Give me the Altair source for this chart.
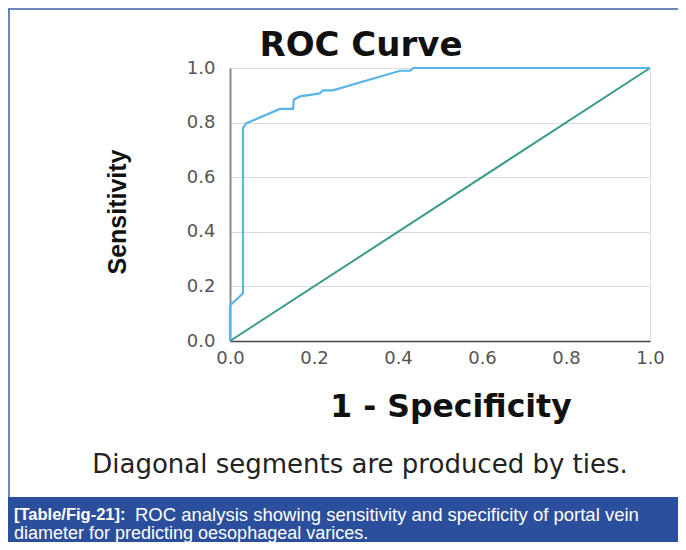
import altair as alt
import pandas as pd

# ROC curve points (1 - specificity, sensitivity)
fpr = [0.0, 0.0, 0.031, 0.031, 0.038, 0.119, 0.15, 0.152, 0.167, 0.214, 0.221, 0.245, 0.405, 0.429, 0.436, 1.0]
tpr = [0.0, 0.13, 0.175, 0.78, 0.797, 0.85, 0.85, 0.885, 0.896, 0.907, 0.918, 0.918, 0.99, 0.99, 1.0, 1.0]
diag_x = [0.0, 1.0]
diag_y = [0.0, 1.0]
tick_values = [0.0, 0.2, 0.4, 0.6, 0.8, 1.0]

title_text = "ROC Curve"
y_title = "Sensitivity"
x_title = "1 - Specificity"
note_text = "Diagonal segments are produced by ties."
caption_bold = "[Table/Fig-21]:"
caption_line1 = "ROC analysis showing sensitivity and specificity of portal vein"
caption_line2 = "diameter for predicting oesophageal varices."

roc = pd.DataFrame({"fpr": fpr, "tpr": tpr, "i": list(range(len(fpr)))})
diag = pd.DataFrame({"fpr": diag_x, "tpr": diag_y, "i": [0, 1]})
one = pd.DataFrame({"k": [0]})

xs = alt.Scale(domain=[0, 1], nice=False, zero=False)
ys = alt.Scale(domain=[0, 1], nice=False, zero=False)

x_axis = alt.Axis(values=tick_values, format=".1f", grid=False, ticks=False, labelFlush=False,
                  domainColor="#444444", domainWidth=1.5, labelPadding=8,
                  labelFont="DejaVu Sans", labelFontSize=18, labelColor="#555555", title=None)
y_axis = alt.Axis(values=tick_values, format=".1f", grid=True, gridColor="#dcdcdc", ticks=False,
                  labelFlush=False, domainColor="#8a8a8a", domainWidth=2, labelPadding=15,
                  labelFont="DejaVu Sans", labelFontSize=18, labelColor="#555555", title=None)

diag_line = alt.Chart(diag).mark_line(color="#3a9a8c", strokeWidth=2).encode(
    x=alt.X("fpr:Q", scale=xs, axis=x_axis),
    y=alt.Y("tpr:Q", scale=ys, axis=y_axis),
    order="i:Q",
)
roc_line = alt.Chart(roc).mark_line(color="#5ab4ea", strokeWidth=2.2).encode(
    x=alt.X("fpr:Q", scale=xs),
    y=alt.Y("tpr:Q", scale=ys),
    order="i:Q",
)

band = alt.Chart(one).mark_rect(color="#2b4f9c").encode(
    x=alt.value(-222), x2=alt.value(448), y=alt.value(429), y2=alt.value(474))
top_border = alt.Chart(one).mark_rule(color="#3b5ea8", strokeWidth=1.5).encode(
    x=alt.value(-222), x2=alt.value(448), y=alt.value(-59))
left_border = alt.Chart(one).mark_rule(color="#3b5ea8", strokeWidth=1.5).encode(
    x=alt.value(-221), y=alt.value(-59), y2=alt.value(429))

def txt(s, x, y, **kw):
    return alt.Chart(one).mark_text(**kw).encode(
        x=alt.value(x), y=alt.value(y), text=alt.value(s))

t_title = txt(title_text, 131, -22, font="DejaVu Sans", fontSize=34, fontWeight="bold",
              color="#111111", align="center", baseline="middle")
t_y = txt(y_title, -112, 144, font="Liberation Sans", fontSize=25, fontWeight="bold",
          color="#111111", align="center", baseline="middle", angle=270)
t_x = txt(x_title, 221, 340, font="DejaVu Sans", fontSize=31.5, fontWeight="bold",
          color="#111111", align="center", baseline="middle")
t_note = txt(note_text, 130, 397, font="DejaVu Sans", fontSize=26,
             color="#222222", align="center", baseline="middle")
t_cap_b = txt(caption_bold, -216, 447, font="Liberation Sans", fontSize=16.5, fontWeight="bold",
              color="#ffffff", align="left", baseline="middle")
t_cap_1 = txt(caption_line1, -95, 447, font="Liberation Sans", fontSize=18.5,
              color="#ffffff", align="left", baseline="middle")
t_cap_2 = txt(caption_line2, -216, 466, font="Liberation Sans", fontSize=18,
              color="#ffffff", align="left", baseline="middle")

chart = alt.layer(
    band, top_border, left_border, diag_line, roc_line,
    t_title, t_y, t_x, t_note, t_cap_b, t_cap_1, t_cap_2,
).properties(
    width=420, height=273,
    autosize=alt.AutoSizeParams(type="none"),
    padding={"left": 222, "top": 60, "right": 28, "bottom": 201},
).configure_view(stroke=None).configure(background="white")

chart.save("out.html", embed_options={"renderer": "svg", "actions": False})
